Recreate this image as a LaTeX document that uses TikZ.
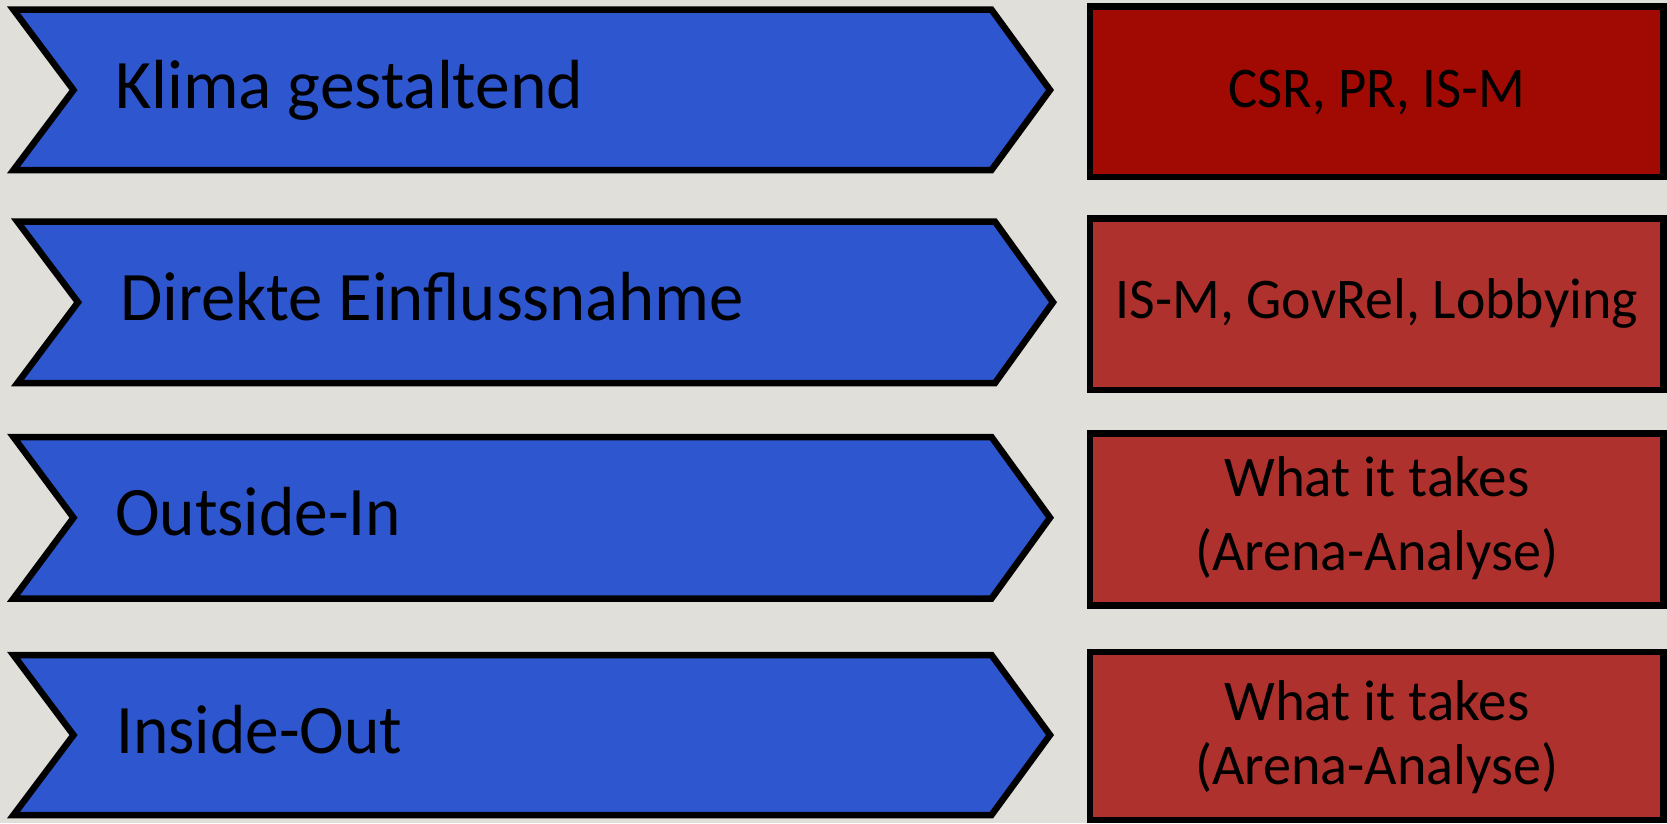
\documentclass[tikz,border=0pt]{standalone}
\usepackage{fontspec}
\setmainfont{Carlito}
\usepackage{graphicx}
\definecolor{bgc}{HTML}{E1DFDA}
\definecolor{chevblue}{HTML}{2E57CF}
\definecolor{darkred}{HTML}{A10A03}
\definecolor{midred}{HTML}{AF312D}
\newcommand{\fitw}[2]{\resizebox{#1pt}{\height}{#2}}
\tikzset{
  chev/.style={fill=chevblue,draw=black,line width=6.5pt,line join=miter},
  redbox/.style={draw=black,line width=6.5pt,minimum width=573.5pt,inner sep=0pt,outer sep=0pt},
  ctext/.style={anchor=base west,inner sep=0pt,font=\fontsize{69.5}{80}\selectfont},
  btext/.style={anchor=base,inner sep=0pt,font=\fontsize{57.5}{66}\selectfont}
}
\begin{document}
\begin{tikzpicture}[x=1pt,y=-1pt]
\useasboundingbox (0,0) rectangle (1667,823);
\fill[bgc] (0,0) rectangle (1667,823);
% chevrons
\draw[chev] (13.5,9.7) -- (991.5,9.7) -- (1050,90) -- (991.5,170) -- (13.5,170) -- (73.5,90) -- cycle;
\draw[chev] (17.5,221.7) -- (995,221.7) -- (1053,302.3) -- (995,383) -- (17.5,383) -- (78,302.3) -- cycle;
\draw[chev] (13.5,437) -- (991.5,437) -- (1050,517.7) -- (991.5,598.5) -- (13.5,598.5) -- (73.5,517.7) -- cycle;
\draw[chev] (13.5,655) -- (991.5,655) -- (1050,735) -- (991.5,815) -- (13.5,815) -- (73.5,735) -- cycle;
% chevron labels
\node[ctext] (t1) at (115,108) {\fitw{468}{Klima gestaltend}};
\node[ctext] (t2) at (120,320) {\fitw{624}{Direkte Einflussnahme}};
\node[ctext] (t3) at (115,535) {\fitw{286}{Outside-In}};
\node[ctext] (t4) at (116,753) {\fitw{286}{Inside-Out}};
% boxes
\node[redbox,fill=darkred,minimum height=170.3pt] (b1) at (1376.75,91.85) {};
\node[redbox,fill=midred,minimum height=171.7pt] (b2) at (1376.75,304.2) {};
\node[redbox,fill=midred,minimum height=172pt] (b3) at (1376.75,519.3) {};
\node[redbox,fill=midred,minimum height=168.3pt] (b4) at (1376.75,735.9) {};
% box labels
\node[btext] (l1) at (1376.75,107) {\fitw{296}{CSR, PR, IS-M}};
\node[btext] (l2) at (1376.75,318) {\fitw{522}{IS-M, GovRel, Lobbying}};
\node[btext] (l3a) at (1376.75,496) {\fitw{305}{What it takes}};
\node[btext] (l3b) at (1376.75,570) {\fitw{363}{(Arena-Analyse)}};
\node[btext] (l4a) at (1376.75,720) {\fitw{305}{What it takes}};
\node[btext] (l4b) at (1376.75,784) {\fitw{363}{(Arena-Analyse)}};
\end{tikzpicture}
\end{document}
